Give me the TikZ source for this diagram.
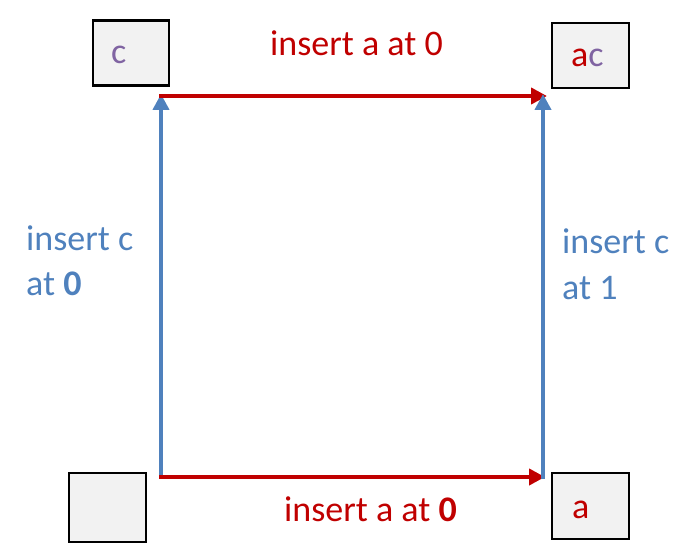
\documentclass[tikz,border=0pt]{standalone}
\usepackage{fontspec}
\setmainfont{Carlito}
\usetikzlibrary{arrows.meta}
\definecolor{myred}{HTML}{C00000}
\definecolor{myblue}{HTML}{4F81BD}
\definecolor{mypurple}{HTML}{8064A2}
\definecolor{boxfill}{HTML}{F2F2F2}
\tikzset{
  statebox/.style={draw=black, line width=2.8pt, fill=boxfill, rectangle, inner sep=0pt},
  redarrow/.style={draw=myred, line width=4.5pt, -{Triangle[length=16pt,width=16pt]}},
  bluearrow/.style={draw=myblue, line width=4.5pt, -{Triangle[length=16pt,width=16pt]}},
  lbl/.style={font=\fontsize{36}{45.5}\selectfont, inner sep=0pt, anchor=base west},
  boxtxt/.style={font=\fontsize{36}{45}\selectfont, inner sep=0pt, anchor=base west}
}
\begin{document}
\begin{tikzpicture}[x=1pt,y=-1pt]
\useasboundingbox (0,0) rectangle (699,559);
% boxes
\node[statebox, minimum width=76pt, minimum height=65pt] (c) at (131,53) {};
\node[boxtxt, text=mypurple] at (111,64) {c};
\node[statebox, minimum width=77pt, minimum height=65pt] (ac) at (590.5,55.5) {};
\node[boxtxt] at (571,67) {\textcolor{myred}{a}\textcolor{mypurple}{c}};
\node[statebox, minimum width=77pt, minimum height=69pt] (e) at (107.5,507.5) {};
\node[statebox, minimum width=77pt, minimum height=66pt] (a) at (590.5,506) {};
\node[boxtxt, text=myred] at (572,518) {a};
% corners
\coordinate (tl) at (161,94);
\coordinate (tr) at (543,94);
\draw[bluearrow] (161,479) -- (tl);
\draw[redarrow] (159,477) -- (545,477);
\draw[redarrow] (159,96) -- (547,96);
\draw[bluearrow] (543,479) -- (tr);
% labels
\node[lbl, text=myred] at (270,56) {insert a at 0};
\node[lbl, text=myred] at (284,521) {insert a at \textbf{0}};
\node[lbl, text=myblue] at (26,250) {insert c};
\node[lbl, text=myblue] at (26,295) {at \textbf{0}};
\node[lbl, text=myblue] at (562,253) {insert c};
\node[lbl, text=myblue] at (562,299) {at 1};
\end{tikzpicture}
\end{document}
